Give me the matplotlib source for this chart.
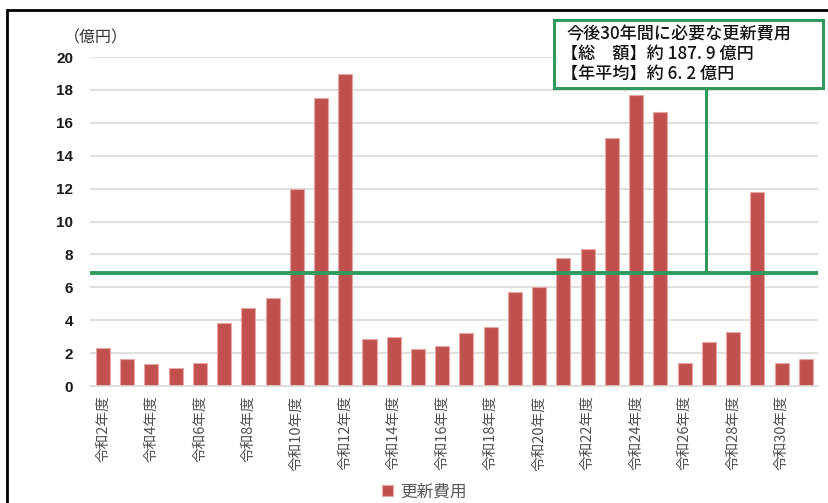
import matplotlib
matplotlib.use('Agg')
import matplotlib.pyplot as plt
from matplotlib.patches import Rectangle
import numpy as np

plt.rcParams['font.family'] = ['Noto Sans CJK JP', 'DejaVu Sans']

# 令和2年度〜令和31年度 の更新費用（億円）
years = [f"令和{n}年度" for n in range(2, 32)]
costs = [2.32, 1.66, 1.35, 1.09, 1.41, 3.86, 4.77, 5.37, 12.0, 17.5,
         18.95, 2.87, 2.95, 2.26, 2.46, 3.25, 3.56, 5.74, 6.04, 7.80,
         8.34, 15.07, 17.72, 16.63, 1.37, 2.65, 3.31, 11.82, 1.41, 1.66]
avg_line = 6.9
summary = ["今後30年間に必要な更新費用",
           "【総　額】約 187. 9 億円",
           "【年平均】約 6. 2 億円"]

bar_color = "#C0504D"
green = "#2E9A5E"

fig = plt.figure(figsize=(8.29, 5.03), dpi=100)
ax = fig.add_axes([0.1086, 0.2326, 0.878, 0.654])

x = np.arange(len(years))
ax.bar(x, costs, width=0.58, color=bar_color, edgecolor="#E8A6A4",
       linewidth=0.8, zorder=2, label="更新費用")
ax.axhline(avg_line, color=green, linewidth=2.8, zorder=3)

ax.set_xlim(-0.53, 29.5)
ax.set_ylim(0, 20)
ax.set_yticks(range(0, 21, 2))
ax.grid(axis="y", color="#D9D9D9", linewidth=1.2, zorder=0)
ax.set_axisbelow(True)
for side in ["left", "right", "top"]:
    ax.spines[side].set_visible(False)
ax.spines["bottom"].set_color("#D9D9D9")
ax.spines["bottom"].set_linewidth(1.2)

ax.set_xticks(x[::2])
ax.set_xticklabels(years[::2], rotation=90, fontsize=10.5, color="#505050",
                   va="top")
ax.tick_params(axis="x", length=0, pad=7)
ax.tick_params(axis="y", length=0, pad=12, labelsize=11)
for lbl in ax.get_yticklabels():
    lbl.set_family(["Liberation Sans", "DejaVu Sans"])
    lbl.set_fontweight("bold")
    lbl.set_color("#1a1a1a")

fig.text(0.077, 0.925, "（億円）", fontsize=11.5, color="#333333",
         ha="left", va="center")

# summary box and its connector to the average line
box_left, box_bottom = 554 / 829, 1 - 88 / 503
box_w, box_h = (823 - 554) / 829, (88 - 20) / 503
fig.patches.append(Rectangle((box_left, box_bottom), box_w, box_h,
                             transform=fig.transFigure, facecolor="white",
                             edgecolor=green, linewidth=2.2, zorder=5))
ax.plot([24.88, 24.88], [avg_line, 18.06], color=green, linewidth=2.2,
        clip_on=False, zorder=3)
for i, line in enumerate(summary):
    # full-width brackets carry left-side bearing, pull those lines in
    x0 = 566 if i == 0 else 561
    fig.text(x0 / 829, 1 - (34 + i * 20) / 503, line, fontsize=12.3,
             fontweight="medium", color="#111111", ha="left", va="center",
             zorder=6)

# outer frame
fig.patches.append(Rectangle((7 / 829, -0.1), 1.2, 1.1 - 10 / 503,
                             transform=fig.transFigure, fill=False,
                             edgecolor="black", linewidth=2, zorder=10))

leg = fig.legend(loc="center", bbox_to_anchor=(0.512, 0.022), frameon=False,
                 fontsize=12, handlelength=0.65, handleheight=0.65,
                 handletextpad=0.4)
for t in leg.get_texts():
    t.set_color("#595959")

fig.savefig("out.png", dpi=100)
